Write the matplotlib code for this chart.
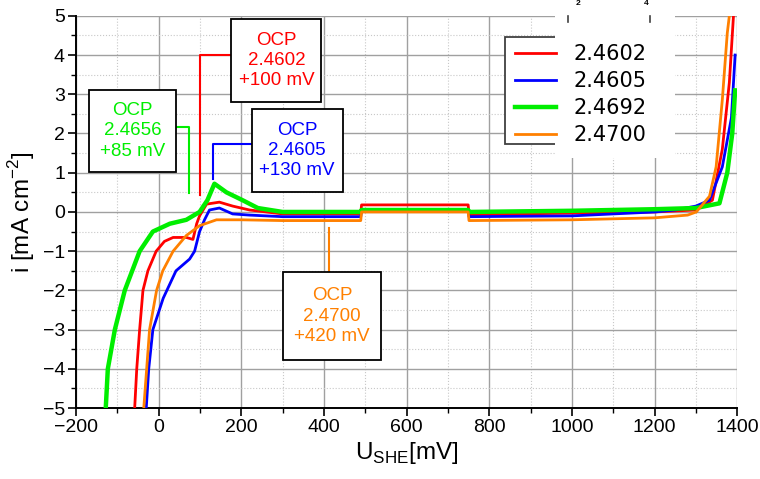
import matplotlib
matplotlib.use("Agg")
import matplotlib.pyplot as plt
from matplotlib.lines import Line2D
from matplotlib.patches import Rectangle
from matplotlib.ticker import MultipleLocator

plt.rcParams['font.family'] = ['Liberation Sans', 'DejaVu Sans']

u_rot = [-58, -53, -46, -38, -26, -6, 14, 35, 67, 83, 92, 99, 116, 147, 179, 220, 300,
         489, 491, 749, 751, 1000, 1200, 1300, 1340, 1364, 1381, 1391]
i_rot = [-5, -4, -3, -2, -1.5, -1, -0.75, -0.65, -0.65, -0.7, -0.3, -0.1, 0.2, 0.25, 0.15, 0.05, -0.05,
         -0.05, 0.18, 0.18, -0.07, -0.03, 0.0, 0.05, 0.3, 1.6, 3.3, 5]

u_blau = [-30, -24, -14, 11, 42, 75, 87, 99, 111, 123, 147, 179, 220, 300,
          489, 491, 749, 751, 1000, 1200, 1250, 1300, 1333, 1364, 1386, 1395]
i_blau = [-5, -4, -3, -2.2, -1.5, -1.2, -1.0, -0.5, -0.2, 0.05, 0.1, -0.05, -0.08, -0.12,
          -0.12, 0.05, 0.05, -0.12, -0.1, 0.0, 0.05, 0.15, 0.3, 1.15, 2.4, 4.0]

u_gruen = [-128, -123, -106, -82, -46, -14, 27, 67, 99, 118, 135, 164, 203, 240, 300,
           489, 491, 749, 751, 1000, 1200, 1300, 1357, 1376, 1388, 1395]
i_gruen = [-5, -4, -3, -2, -1, -0.5, -0.3, -0.2, 0.0, 0.3, 0.72, 0.5, 0.3, 0.1, 0.0,
           0.0, 0.05, 0.05, 0.0, 0.03, 0.07, 0.1, 0.22, 1.0, 2.0, 3.1]

u_orange = [-36, -29, -22, -5, 10, 35, 67, 99, 140, 200, 300, 489, 491, 749, 751,
            1000, 1200, 1280, 1301, 1333, 1349, 1364, 1376, 1381]
i_orange = [-5, -4, -3, -2, -1.5, -1, -0.6, -0.35, -0.2, -0.2, -0.22, -0.22, 0.0, 0.0, -0.22,
            -0.2, -0.15, -0.08, 0.0, 0.4, 1.15, 2.86, 4.56, 5]

labels = ['2.4602', '2.4605', '2.4692', '2.4700']
farben = ['#ff0000', '#0000ff', '#00ee00', '#ff8000']
breiten = [2.0, 2.0, 3.2, 2.0]

# OCP-Markierungen
ocp_texte = ['OCP\n2.4602\n+100 mV', 'OCP\n2.4656\n+85 mV', 'OCP\n2.4605\n+130 mV', 'OCP\n2.4700\n+420 mV']
ocp_farben = ['#ff0000', '#00ee00', '#0000ff', '#ff8000']

fig = plt.figure(figsize=(7.6, 4.79), dpi=100)
ax = fig.add_axes([0.1, 0.148, 0.87, 0.819])

kurven = [(u_rot, i_rot), (u_blau, i_blau), (u_gruen, i_gruen), (u_orange, i_orange)]
for (u, i), c, lw in zip(kurven, farben, breiten):
    ax.plot(u, i, color=c, lw=lw, zorder=3)

ax.set_xlim(-200, 1400)
ax.set_ylim(-5, 5)
ax.xaxis.set_major_locator(MultipleLocator(200))
ax.xaxis.set_minor_locator(MultipleLocator(100))
ax.yaxis.set_major_locator(MultipleLocator(1))
ax.yaxis.set_minor_locator(MultipleLocator(0.5))
ax.grid(which='major', color='#a0a0a0', lw=1.0)
ax.grid(which='minor', color='#c8c8c8', lw=0.8, ls=':')
ax.tick_params(which='major', direction='out', length=6, width=1.2, labelsize=14, pad=2)
ax.tick_params(which='minor', direction='out', length=3.5, width=1.0)
ax.spines['top'].set_visible(False)
ax.spines['right'].set_visible(False)
ax.spines['left'].set_linewidth(1.4)
ax.spines['bottom'].set_linewidth(1.4)

ax.set_xlabel('U$_{\\mathregular{SHE}}$[mV]', fontsize=17.5, labelpad=3)
ax.set_ylabel('i [mA cm$^{\\mathregular{-2}}$]', fontsize=17.5, labelpad=4)

# Kästen mit OCP-Angaben
boxen = [(176, 394, 2.81, 4.92), (-169, 43, 1.02, 3.11), (225, 445, 0.51, 2.63), (300, 539, -3.78, -1.53)]
for txt, c, (x0, x1, y0, y1) in zip(ocp_texte, ocp_farben, boxen):
    ax.add_patch(Rectangle((x0, y0), x1 - x0, y1 - y0, fc='white', ec='black', lw=1.3, zorder=6))
    ax.text((x0 + x1) / 2, (y0 + y1) / 2, txt, color=c, fontsize=13.5, ha='center', va='center',
            linespacing=1.25, zorder=7)

# Verbindungslinien
ax.plot([176, 100, 100], [4.0, 4.0, 0.43], color='#ff0000', lw=1.5, zorder=4)
ax.plot([43, 74, 74], [2.17, 2.17, 0.48], color='#00ee00', lw=1.5, zorder=4)
ax.plot([225, 132, 132], [1.73, 1.73, 0.84], color='#0000ff', lw=1.5, zorder=4)
ax.plot([413, 413], [-1.53, -0.41], color='#ff8000', lw=1.5, zorder=4)

# Legende: Rahmen, weisse Fläche darüber, Einträge
ax.add_patch(Rectangle((0.649, 0.673), 0.2, 0.273, transform=ax.transAxes, fc='white', ec='#404040',
                       lw=1.3, zorder=8))
ax.add_patch(Rectangle((0.725, 0.638), 0.181, 0.45, transform=ax.transAxes, fc='white', ec='none',
                       zorder=9, clip_on=False))
handles = [Line2D([], [], color=c, lw=lw) for c, lw in zip(farben, breiten)]
leg = ax.legend(handles, labels, loc='upper left', bbox_to_anchor=(0.664, 0.928), frameon=False,
                prop={'family': 'DejaVu Sans', 'size': 15}, handlelength=1.95, handletextpad=0.85,
                labelspacing=0.34, borderpad=0, borderaxespad=0)
leg.set_zorder(10)

# abgeschnittene Reste oben
for xf in [0.744, 0.868]:
    ax.plot([xf, xf], [0.985, 1.0], transform=ax.transAxes, color='#404040', lw=1.2,
            zorder=11, clip_on=False)
fig.text(0.76, 0.999, '2', fontsize=6, ha='center', va='top', fontweight='bold')
fig.text(0.85, 0.999, '4', fontsize=6, ha='center', va='top', fontweight='bold')

fig.savefig('out.png', dpi=100)
